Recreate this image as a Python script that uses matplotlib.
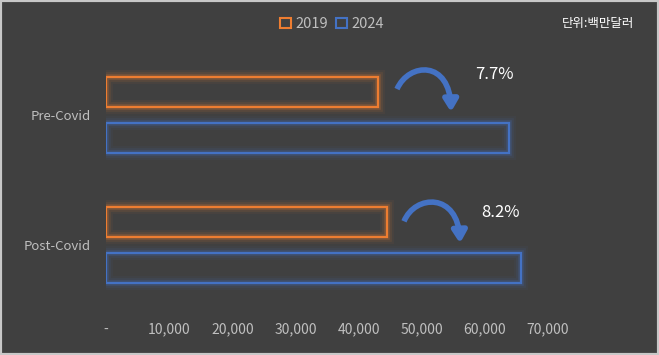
import numpy as np
import matplotlib
matplotlib.use("Agg")
import matplotlib.pyplot as plt
from matplotlib.patches import Patch, Rectangle, FancyArrowPatch
from matplotlib.path import Path

plt.rcParams['font.family'] = ['Noto Sans CJK KR', 'DejaVu Sans']

# data
categories = ['Pre-Covid', 'Post-Covid']
series_names = ['2019', '2024']
values_2019 = [43000, 44500]
values_2024 = [63900, 65800]
growth_labels = ['7.7%', '8.2%']
xticks = [0, 10000, 20000, 30000, 40000, 50000, 60000, 70000]
xtick_labels = ['-', '10,000', '20,000', '30,000', '40,000', '50,000', '60,000', '70,000']
unit_label = '단위:백만달러'

bg = '#404040'
txt = '#bfbfbf'
orange = '#ED7D31'
blue = '#4472C4'

fig = plt.figure(figsize=(6.59, 3.55), dpi=100)
fig.patch.set_facecolor(bg)
ax = fig.add_axes([106 / 659, 1 - 310 / 355, 442 / 659, (310 - 49.5) / 355])
ax.set_facecolor(bg)

y = np.arange(len(categories))
h = 0.23
off = 0.177


def glow_bars(ypos, vals, color):
    # soft outer glow, then the crisp outline
    for lw, a in [(10, 0.05), (7, 0.1), (4, 0.22)]:
        ax.barh(ypos, vals, height=h, fill=False, edgecolor=color, linewidth=lw, alpha=a)
    ax.barh(ypos, vals, height=h, fill=False, edgecolor=color, linewidth=1.6)


glow_bars(y - off, values_2019, orange)
glow_bars(y + off, values_2024, blue)

ax.set_xlim(0, 70000)
ax.set_ylim(1.5, -0.5)
ax.set_xticks(xticks)
ax.set_xticklabels(xtick_labels)
ax.set_yticks(y)
ax.set_yticklabels(categories)
ax.tick_params(axis='x', length=0, pad=9, colors=txt, labelsize=10)
ax.tick_params(axis='y', length=0, pad=11, colors=txt, labelsize=9.5)
for s in ax.spines.values():
    s.set_visible(False)


# curved growth arrows + labels (positions in pixels -> data)
def px_to_data(px, py):
    return ((px - 106) / 442 * 70000, (py - 114.5) / 130)


arrows = [
    ([(397, 89), (409, 62), (450, 60), (451, 112)], (494, 74)),
    ([(404, 221), (415, 194), (458, 192), (460, 243)], (501, 212)),
]
for (pts, lab), g in zip(arrows, growth_labels):
    verts = [px_to_data(*p) for p in pts]
    path = Path(verts, [Path.MOVETO, Path.CURVE4, Path.CURVE4, Path.CURVE4])
    arr = FancyArrowPatch(path=path,
                          arrowstyle='-|>,head_width=0.3,head_length=0.5',
                          mutation_scale=14, color=blue, lw=4,
                          capstyle='butt', zorder=5)
    ax.add_patch(arr)
    ax.text(*px_to_data(*lab), g, color='white', fontsize=12, ha='center', va='center')

handles = [Patch(facecolor=bg, edgecolor=orange, linewidth=1.5, label=series_names[0]),
           Patch(facecolor=bg, edgecolor=blue, linewidth=1.5, label=series_names[1])]
leg = fig.legend(handles=handles, loc='center', bbox_to_anchor=(332 / 659, 1 - 24 / 355),
                 ncol=2, frameon=False, handlelength=0.7, handleheight=0.7,
                 handletextpad=0.3, columnspacing=0.6, fontsize=10.5)
for t in leg.get_texts():
    t.set_color(txt)

fig.text(598 / 659, 1 - 23 / 355, unit_label, color='white', fontsize=9, ha='center', va='center')

fig.patches.append(Rectangle((0, 0), 1, 1, transform=fig.transFigure, fill=False,
                             edgecolor='#c8c8c8', linewidth=3, zorder=10))

fig.savefig('out.png', dpi=100, facecolor=bg)
